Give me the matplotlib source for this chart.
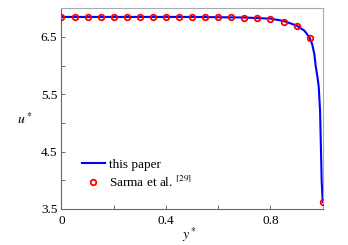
import numpy as np
import matplotlib.pyplot as plt
from matplotlib.ticker import MultipleLocator

plt.rcParams["font.family"] = ["Liberation Serif", "DejaVu Serif"]
plt.rcParams["mathtext.fontset"] = "stix"
plt.rcParams["font.size"] = 9.5

# reference points (Sarma et al.)
ref_y = [0, 0.05, 0.1, 0.15, 0.2, 0.25, 0.3, 0.35, 0.4, 0.45, 0.5,
         0.55, 0.6, 0.65, 0.7, 0.75, 0.8, 0.85, 0.9, 0.95, 1.0]
ref_u = [6.85, 6.85, 6.85, 6.85, 6.85, 6.85, 6.85, 6.85, 6.85, 6.85, 6.85,
         6.85, 6.85, 6.85, 6.84, 6.83, 6.81, 6.77, 6.70, 6.49, 3.62]

# present solution
line_y = [0, 0.5, 0.7, 0.8, 0.85, 0.9, 0.93, 0.95, 0.96, 0.968, 0.973,
          0.98, 0.985, 0.99, 0.993, 0.996, 1.0]
line_u = [6.85, 6.85, 6.84, 6.82, 6.78, 6.70, 6.61, 6.49, 6.37, 6.2, 6.0,
          5.8, 5.62, 5.2, 4.6, 4.0, 3.62]

fig = plt.figure(figsize=(3.48, 2.45), dpi=100)
ax = fig.add_axes([0.1767, 0.147, 0.7506, 0.819])

ax.plot(line_y, line_u, color="#0000ff", lw=1.5, label="this paper", zorder=2)
ax.plot(ref_y, ref_u, "o", mfc="none", mec="#ff0000", mew=1.3, ms=4.0,
        label="Sarma et al. $^{[29]}$", zorder=3)

ax.set_xlim(0, 1)
ax.set_ylim(3.5, 7.0)
ax.set_xticks([0, 0.4, 0.8])
ax.set_xticklabels(["0", "0.4", "0.8"])
ax.set_yticks([3.5, 4.5, 5.5, 6.5])
ax.set_yticklabels(["3.5", "4.5", "5.5", "6.5"])
ax.xaxis.set_minor_locator(MultipleLocator(0.2))
ax.yaxis.set_minor_locator(MultipleLocator(0.5))
ax.tick_params(which="both", direction="in", length=3, width=0.6, colors="#555555",
               labelcolor="black", labelsize=9.5)
ax.tick_params(axis="x", pad=4)
ax.tick_params(axis="y", pad=3)

for s in ["left", "bottom"]:
    ax.spines[s].set_color("#666666")
    ax.spines[s].set_linewidth(0.8)
for s in ["top", "right"]:
    ax.spines[s].set_color("#aaaaaa")
    ax.spines[s].set_linewidth(0.8)

ax.set_xlabel("$y^*$", fontsize=10)
ax.set_ylabel("$u^*$", fontsize=10, rotation=0, va="center")
ax.xaxis.set_label_coords(0.49, -0.08)
ax.yaxis.set_label_coords(-0.14, 0.45)

ax.legend(loc="upper left", bbox_to_anchor=(0.077, 0.25), frameon=False,
          fontsize=9.5, handlelength=1.8, handletextpad=0.25, labelspacing=0.3,
          borderpad=0, borderaxespad=0)

fig.savefig("out.png", dpi=100)
